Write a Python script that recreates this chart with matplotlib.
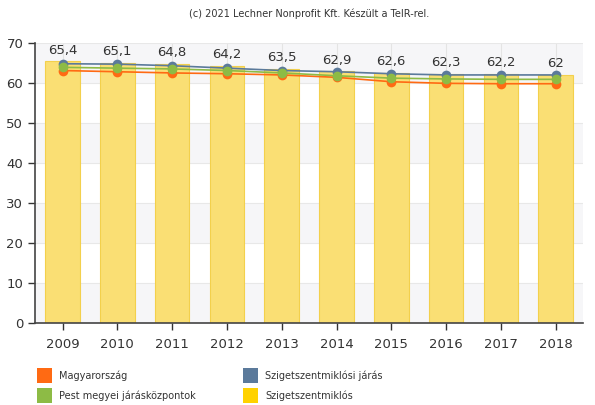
import matplotlib

matplotlib.use("Agg")
import matplotlib.pyplot as plt
from matplotlib.patches import Rectangle

years = ["2009", "2010", "2011", "2012", "2013", "2014", "2015", "2016", "2017", "2018"]
szigetszentmiklos = [65.4, 65.1, 64.8, 64.2, 63.5, 62.9, 62.6, 62.3, 62.2, 62.0]
jaras = [64.8, 64.7, 64.3, 63.7, 63.1, 62.8, 62.3, 62.0, 62.0, 62.0]
pest_kozpontok = [63.9, 63.7, 63.5, 63.1, 62.5, 61.8, 61.2, 61.0, 60.9, 60.9]
magyarorszag = [63.1, 62.8, 62.5, 62.3, 62.0, 61.4, 60.3, 59.9, 59.8, 59.8]
bar_labels = ["65,4", "65,1", "64,8", "64,2", "63,5", "62,9", "62,6", "62,3", "62,2", "62"]

legend_names = ["Magyarország", "Pest megyei járásközpontok",
                "Szigetszentmiklósi járás", "Szigetszentmiklós"]
c_orange, c_green, c_blue, c_yellow = "#ff6a13", "#8dbb45", "#5b7a9b", "#ffd200"

fig = plt.figure(figsize=(5.95, 4.05), dpi=100)
ax = fig.add_axes([0.059, 0.2025, 0.921, 0.6915])
x = range(len(years))

# faint alternating bands, as in the original
for lo in range(0, 70, 20):
    ax.axhspan(lo, lo + 10, color="#f6f6f8", zorder=0, lw=0)
for i in x:
    ax.axvline(i, color="#e4e4e4", lw=0.8, zorder=0.5)
for v in range(10, 71, 10):
    ax.axhline(v, color="#e8e8e8", lw=0.8, zorder=0.5)

ax.bar(x, szigetszentmiklos, width=0.63, color="#fadf74",
       edgecolor="#f3d04c", lw=0.8, zorder=1)
for i, lab in zip(x, bar_labels):
    ax.text(i, szigetszentmiklos[i] + 1.2, lab, ha="center", va="bottom",
            fontsize=9.5, color="#333333", zorder=5)

for vals, col in [(magyarorszag, c_orange), (jaras, c_blue), (pest_kozpontok, c_green)]:
    ax.plot(x, vals, "-", color=col, lw=1.2, marker="o", ms=7,
            markeredgewidth=0, zorder=3)

ax.set_xlim(-0.5, 9.5)
ax.set_ylim(0, 70)
ax.set_yticks(range(0, 71, 10))
ax.set_xticks(list(x))
ax.set_xticklabels(years)
ax.tick_params(axis="both", labelsize=9.5, colors="#333333", length=5, width=1)
ax.tick_params(axis="x", pad=6)
for s in ["top", "right"]:
    ax.spines[s].set_visible(False)
for s in ["left", "bottom"]:
    ax.spines[s].set_color("#444444")
    ax.spines[s].set_linewidth(1.2)

fig.text(0.52, 0.965, "(c) 2021 Lechner Nonprofit Kft. Készült a TeIR-rel.",
         ha="center", va="center", fontsize=7, color="#333333")

# legend, two columns
leg_colors = [c_orange, c_green, c_blue, c_yellow]
pos = [(37, 376), (37, 396), (243, 376), (243, 396)]
for (px, py), name, col in zip(pos, legend_names, leg_colors):
    fig.add_artist(Rectangle((px / 595, 1 - (py + 7) / 405), 15 / 595, 15 / 405,
                             transform=fig.transFigure, color=col, lw=0))
    fig.text((px + 22) / 595, 1 - py / 405, name, ha="left", va="center",
             fontsize=7, color="#333333")

fig.savefig("out.png", dpi=100)
